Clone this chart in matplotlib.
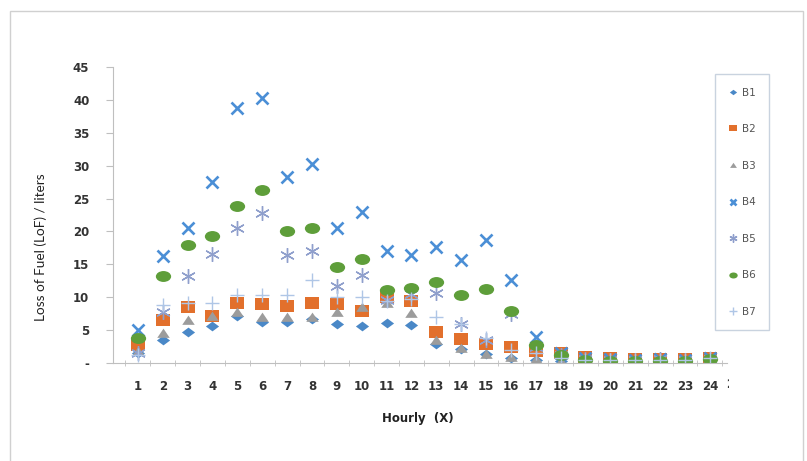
import numpy as np
import matplotlib
matplotlib.use("Agg")
import matplotlib.pyplot as plt
from matplotlib.path import Path
from matplotlib.patches import Rectangle
from matplotlib.transforms import Bbox, TransformedBbox

hours = np.arange(1, 25)
labels = ["B1", "B2", "B3", "B4", "B5", "B6", "B7"]

b1 = [1.5, 3.6, 4.7, 5.6, 7.2, 6.3, 6.2, 6.7, 6.0, 5.6, 6.1, 5.8, 3.0, 2.1, 1.4, 0.8, 0.5, 0.3, 0.3, 0.2, 0.2, 0.3, 0.2, 0.3]
b2 = [2.8, 6.6, 8.5, 7.2, 9.2, 9.0, 8.7, 9.1, 9.0, 7.9, 10.0, 9.5, 4.8, 3.7, 2.9, 2.5, 1.9, 1.5, 0.9, 0.8, 0.6, 0.6, 0.6, 0.8]
b3 = [1.8, 4.6, 6.6, 7.2, 7.8, 7.1, 7.1, 7.1, 7.8, 8.5, 9.1, 7.6, 3.5, 2.3, 1.4, 0.9, 0.6, 0.3, 0.6, 0.4, 0.5, 0.6, 0.5, 0.7]
b4 = [5.0, 16.3, 20.6, 27.5, 38.7, 40.3, 28.3, 30.2, 20.6, 23.0, 17.0, 16.4, 17.6, 15.7, 18.7, 12.6, 4.0, 1.6, 0.8, 0.6, 0.5, 0.7, 0.5, 0.8]
b5 = [1.6, 7.8, 13.3, 16.6, 20.6, 22.8, 16.5, 17.0, 11.7, 13.4, 9.6, 10.5, 10.7, 6.0, 3.5, 7.5, 2.5, 1.2, 0.6, 0.5, 0.5, 0.6, 0.5, 0.6]
b6 = [3.8, 13.2, 18.0, 19.3, 23.8, 26.3, 20.1, 20.5, 14.6, 15.9, 11.1, 11.4, 12.4, 10.4, 11.3, 7.9, 2.8, 1.3, 0.5, 0.3, 0.3, 0.3, 0.4, 0.6]
b7 = [1.2, 8.8, 9.1, 9.1, 10.4, 10.4, 10.4, 12.6, 10.0, 10.1, 9.5, 9.8, 7.1, 6.0, 3.8, 2.0, 1.5, 0.8, 0.5, 0.5, 0.5, 0.5, 0.5, 0.8]
series = [b1, b2, b3, b4, b5, b6, b7]

yticks = [0, 5, 10, 15, 20, 25, 30, 35, 40, 45]
ytick_labels = ["-", "5", "10", "15", "20", "25", "30", "35", "40", "45"]


def stretched(verts, codes=None, sx=1.3):
    # markers in the picture are a bit wider than tall
    v = np.array(verts, dtype=float)
    v[:, 0] *= sx
    return Path(v, codes)


circ = Path.unit_circle()
ellipse = Path(circ.vertices * [1.4, 1.0], circ.codes)
diamond = stretched([(0, 1), (1, 0), (0, -1), (-1, 0), (0, 1)], sx=1.35)
square = stretched([(-1, -1), (1, -1), (1, 1), (-1, 1), (-1, -1)], sx=1.3)
triangle = stretched([(-1, -0.8), (1, -0.8), (0, 0.9), (-1, -0.8)], sx=1.15)

styles = [
    dict(marker=diamond, color="#4A88C7", ms=9.5, mew=0),
    dict(marker=square, color="#E2702C", ms=10.5, mew=0),
    dict(marker=triangle, color="#9C9C9C", ms=9, mew=0),
    dict(marker="x", color="#4B8FD6", ms=9, mew=1.9),
    dict(marker=(6, 2, 0), color="#8F9FCC", ms=10.5, mew=1.0),
    dict(marker=ellipse, color="#5E9E3A", ms=11, mew=0),
    dict(marker="+", color="#AFC6E6", ms=10, mew=1.0),
]

fig = plt.figure(figsize=(8.07, 4.61), dpi=100)
W, H = 807, 461
ax = fig.add_axes([113 / W, 1 - 363.3 / H, (727 - 113) / W, (363.3 - 66.7) / H])

for vals, lab, st in zip(series, labels, styles):
    ax.plot(hours, vals, linestyle="none", label=lab, **st)

ax.set_xlim(0, 24.69)
ax.set_ylim(0, 45)

ax.set_yticks(yticks)
ax.set_yticklabels(ytick_labels)
ax.set_xticks(hours)
ax.set_xticklabels([str(h) for h in hours])
ax.set_xticks(np.arange(0.5, 25, 1), minor=True)
ax.tick_params(axis="x", which="major", length=0, pad=12)
ax.tick_params(axis="x", which="minor", length=4, color="#BFBFBF", direction="inout")
ax.tick_params(axis="y", length=5, color="#BFBFBF", pad=12)
for lbl in ax.get_xticklabels() + ax.get_yticklabels():
    lbl.set_fontweight("bold")
    lbl.set_fontsize(8.5)
    lbl.set_color("#333333")

# the cut off 25 at the right end
t = ax.text(25, -2.3, "25", ha="center", va="top", fontsize=8.5, fontweight="bold",
            color="#333333", transform=ax.transData, clip_on=True)
t.set_clip_box(TransformedBbox(Bbox([[0, 0], [729 / W, 1]]), fig.transFigure))

for side in ["top", "right"]:
    ax.spines[side].set_visible(False)
for side in ["left", "bottom"]:
    ax.spines[side].set_color("#BFBFBF")
    ax.spines[side].set_linewidth(0.8)

fig.text(418 / W, 1 - 418 / H, "Hourly  (X)", ha="center", va="center",
         fontsize=8.5, fontweight="bold", color="#222222")
fig.text(41 / W, 1 - 247 / H, "Loss of Fuel (LoF) / liters", ha="center", va="center",
         rotation=90, fontsize=9.8, family="Lato", color="#222222")

leg = ax.legend(loc="upper left", bbox_to_anchor=(715 / W, 1 - 74 / H),
                bbox_transform=fig.transFigure, frameon=True, fancybox=False,
                fontsize=7.5, labelspacing=2.55, handlelength=0.8, handletextpad=0.5,
                borderpad=1.3, borderaxespad=0, markerscale=0.55)
leg.get_frame().set_edgecolor("#BCC8D8")
leg.get_frame().set_linewidth(1.0)
for txt in leg.get_texts():
    txt.set_color("#555555")

# outer chart border
fig.patches.append(Rectangle((10 / W, -0.01), (803 - 10) / W, (461 - 11) / H + 0.01,
                             transform=fig.transFigure, fill=False,
                             edgecolor="#D0D0D0", linewidth=1.0))

fig.savefig("out.png", dpi=100)
